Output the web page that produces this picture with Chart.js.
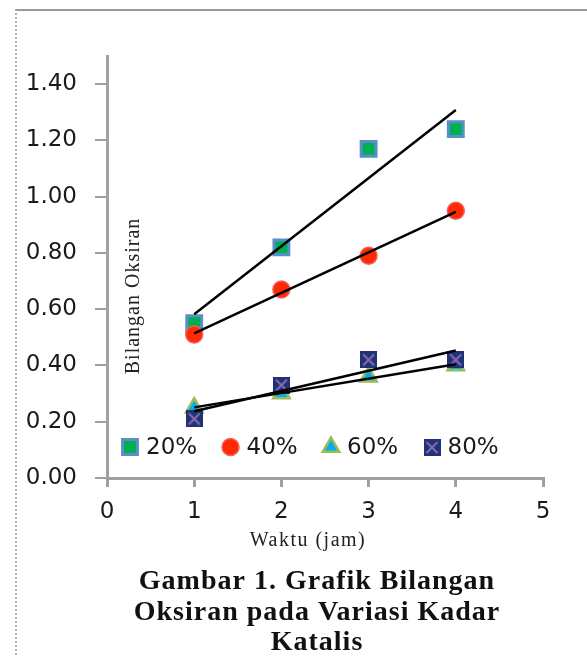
<!DOCTYPE html>
<html lang="id">
<head>
<meta charset="UTF-8">
<title>Grafik Bilangan Oksiran</title>
<script src="https://cdn.jsdelivr.net/npm/chart.js"></script>
<style>
  body { margin:0; background:#fff; }
  .frame { position:absolute; left:15px; top:9px; width:600px; height:700px;
           border-top:2px solid #9a9a9a; border-left:2px dotted #b0b0b0; }
  #oksChart { position:absolute; left:0; top:0; }
</style>
</head>
<body>
<div class="frame"></div>
<canvas id="oksChart" width="587" height="657"></canvas>
<script>
// data
const waktu = [1, 2, 3, 4];
const kadar20 = [0.55, 0.82, 1.17, 1.24];
const kadar40 = [0.51, 0.67, 0.79, 0.95];
const kadar60 = [0.25, 0.30, 0.36, 0.40];
const kadar80 = [0.21, 0.33, 0.42, 0.42];
const seriesLabels = ['20%', '40%', '60%', '80%'];
const xTicks = [0, 1, 2, 3, 4, 5];
const yTicks = [0, 0.2, 0.4, 0.6, 0.8, 1.0, 1.2, 1.4];

const pts = arr => waktu.map((x, i) => ({x: x, y: arr[i]}));

// linear trendline (least squares), like the excel trendline
function trend(arr) {
    const n = waktu.length;
    const mx = waktu.reduce((a, b) => a + b, 0) / n;
    const my = arr.reduce((a, b) => a + b, 0) / n;
    let sxy = 0, sxx = 0;
    waktu.forEach((x, i) => { sxy += (x - mx) * (arr[i] - my); sxx += (x - mx) * (x - mx); });
    const b = sxy / sxx, a = my - b * mx;
    const x0 = waktu[0], x1 = waktu[n - 1];
    return [{x: x0, y: a + b * x0}, {x: x1, y: a + b * x1}];
}

// excel style "x" marker: navy square with purple cross
const xMark = document.createElement('canvas');
xMark.width = 17; xMark.height = 17;
(function(){
    const c = xMark.getContext('2d');
    c.fillStyle = '#1f3274';
    c.fillRect(0, 0, 17, 17);
    c.strokeStyle = '#8a6bb0';
    c.lineWidth = 2;
    c.beginPath();
    c.moveTo(3, 3); c.lineTo(14, 14);
    c.moveTo(14, 3); c.lineTo(3, 14);
    c.stroke();
})();

const markers = [
    {pointStyle:'rect', pointRadius:10.5, backgroundColor:'#00b050', borderColor:'#5b8ccc', borderWidth:3},
    {pointStyle:'circle', pointRadius:8.5, backgroundColor:'#ff2a00', borderColor:'#f26060', borderWidth:1.5},
    {pointStyle:'triangle', pointRadius:9.5, backgroundColor:'#00b0f0', borderColor:'#9bbb59', borderWidth:2.5},
    {pointStyle:xMark, pointRadius:9, backgroundColor:'#1f3274', borderColor:'#8a6bb0', borderWidth:0}
];
const allSeries = [kadar20, kadar40, kadar60, kadar80];

const datasets = [];
allSeries.forEach((arr, i) => {
    datasets.push(Object.assign({
        label: seriesLabels[i],
        data: pts(arr),
        showLine: false,
        order: 4 - i + 1
    }, markers[i]));
});
allSeries.forEach((arr, i) => {
    datasets.push({
        label: 'trend ' + seriesLabels[i],
        data: trend(arr),
        showLine: true,
        borderColor: '#000',
        borderWidth: 2.5,
        pointRadius: 0,
        order: 0,
        isTrend: true
    });
});

const tickFont = {family:'"DejaVu Sans"', size:23};

// legend inside plot, titles and caption
const decor = {
    id: 'decor',
    afterDatasetsDraw(chart) {
        const ctx = chart.ctx, area = chart.chartArea;
        ctx.save();
        // legend
        ctx.font = '23px "DejaVu Sans"';
        ctx.textBaseline = 'middle';
        ctx.textAlign = 'left';
        const ly = area.bottom - 31;
        chart.data.datasets.filter(d => !d.isTrend).forEach((d, i) => {
            const mx = area.left + 23 + i * 100.5;
            if (d.pointStyle instanceof HTMLCanvasElement) {
                ctx.drawImage(d.pointStyle, mx - 8, ly - 8, 17, 17);
            } else {
                ctx.fillStyle = d.backgroundColor;
                ctx.strokeStyle = d.borderColor;
                ctx.lineWidth = d.borderWidth;
                Chart.helpers.drawPoint(ctx, {pointStyle:d.pointStyle, radius:d.pointRadius, borderWidth:d.borderWidth, rotation:0}, mx, ly);
            }
            ctx.fillStyle = '#1a1a1a';
            ctx.fillText(d.label, mx + 16, ly + 1);
        });
        // y title inside plot
        ctx.save();
        ctx.translate(area.left + 27, area.top + 240);
        ctx.rotate(-Math.PI / 2);
        ctx.font = '20px "Liberation Serif"';
        ctx.letterSpacing = '1px';
        ctx.textAlign = 'center';
        ctx.fillStyle = '#222';
        ctx.fillText('Bilangan Oksiran', 0, 0);
        ctx.restore();
        // x title
        const cx = (area.left + area.right) / 2;
        ctx.font = '20px "Liberation Serif"';
        ctx.letterSpacing = '1.5px';
        ctx.textAlign = 'center';
        ctx.fillStyle = '#222';
        ctx.fillText('Waktu (jam)', cx - 17, area.bottom + 63);
        // caption
        ctx.font = 'bold 28px "Liberation Serif"';
        ctx.letterSpacing = '1px';
        ctx.fillStyle = '#111';
        ctx.fillText('Gambar 1. Grafik Bilangan', cx - 8, area.bottom + 104);
        ctx.fillText('Oksiran pada Variasi Kadar', cx - 8, area.bottom + 135);
        ctx.fillText('Katalis', cx - 8, area.bottom + 165);
        ctx.restore();
    }
};

new Chart('oksChart', {
    type: 'scatter',
    data: { datasets: datasets },
    options: {
        responsive: false,
        animation: false,
        layout: { padding: { top: 56, right: 44, left: 0, bottom: 0 } },
        plugins: { legend: { display: false }, tooltip: { enabled: false } },
        scales: {
            x: {
                type: 'linear', min: 0, max: 5,
                afterBuildTicks: s => { s.ticks = xTicks.map(v => ({value: v})); },
                afterFit: s => { s.height = 179; },
                grid: { drawOnChartArea: false, drawTicks: true, tickLength: 9, color: '#a0a0a0', lineWidth: 3 },
                border: { color: '#a0a0a0', width: 3 },
                ticks: { font: tickFont, color: '#1a1a1a', padding: 11, maxRotation: 0 }
            },
            y: {
                min: 0, max: 1.5,
                afterBuildTicks: s => { s.ticks = yTicks.map(v => ({value: v})); },
                afterFit: s => { s.width = 107; },
                grid: { drawOnChartArea: false, drawTicks: true, tickLength: 12, color: '#a0a0a0', lineWidth: 2 },
                border: { color: '#a0a0a0', width: 3 },
                ticks: { font: tickFont, color: '#1a1a1a', padding: 18, callback: v => v.toFixed(2) }
            }
        }
    },
    plugins: [decor]
});
</script>
</body>
</html>
